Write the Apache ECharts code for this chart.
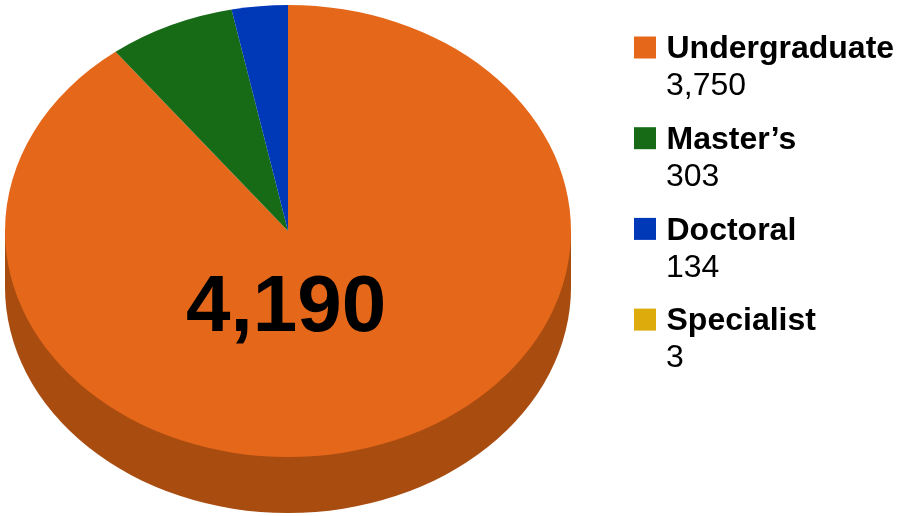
<!DOCTYPE html>
<html><head><meta charset="utf-8">
<style>html,body{margin:0;padding:0;background:#fff}#c{width:905px;height:516px}</style>
<script src="https://cdn.jsdelivr.net/npm/echarts@6/dist/echarts.min.js"></script>
</head><body><div id="c"></div>
<script>
var categories = ["Undergraduate", "Master\u2019s", "Doctoral", "Specialist"];
var values = [3750, 303, 134, 3];
var valueLabels = ["3,750", "303", "134", "3"];
var colors = ["#E5671A", "#176B17", "#0039B8", "#DDAC0C"];
var totalLabel = "4,190";
var sideColor = "#A94C10";

var CX = 288, CY = 231, RX = 283, RY = 226, DEPTH = 56;
var total = values.reduce(function (a, b) { return a + b; }, 0);
var FONT = '"Liberation Sans", Arial, sans-serif';
var chart = echarts.init(document.getElementById('c'), null, {renderer: 'canvas'});
var TOP = -Math.PI / 2, FULL = 2 * Math.PI;

// Doctoral ends at 12 o'clock, Master's before it; Undergraduate closes the ring,
// and the 3-count Specialist sliver sits beneath it, too thin to show, as in the reference.
function renderSlice(params, api) {
  var i = params.dataIndex, after = 0;
  for (var k = i + 1; k < 3; k++) after += values[k];
  var a0, a1;
  if (i === 3) { a0 = TOP; a1 = TOP + api.value(1) / total * FULL; }
  else {
    a1 = TOP + FULL - after / total * FULL;
    a0 = i === 0 ? TOP : a1 - api.value(1) / total * FULL;
  }
  return {
    type: 'sector', x: CX, y: CY, scaleX: 1, scaleY: RY / RX,
    shape: {cx: 0, cy: 0, r0: 0, r: RX, startAngle: a0, endAngle: a1, clockwise: true},
    style: {fill: colors[i]}, z2: i === 3 ? 5 : 10
  };
}
function renderSide(params, api) {
  if (params.dataIndex !== 0) return null;
  return {type: 'group', children: [
    {type: 'sector', x: CX, y: CY + DEPTH, scaleY: RY / RX,
     shape: {cx: 0, cy: 0, r0: 0, r: RX, startAngle: 0, endAngle: Math.PI, clockwise: true},
     style: {fill: sideColor}},
    {type: 'rect', shape: {x: CX - RX, y: CY, width: 2 * RX, height: DEPTH}, style: {fill: sideColor}}
  ]};
}

var graphics = [{type: 'text', left: 186, top: 269, z: 20,
  style: {text: totalLabel, fill: '#000', font: 'bold 80px ' + FONT}}];
var SW_TOP = 36.5, STEP = 90.7;
categories.forEach(function (c, i) {
  var y = SW_TOP + STEP * i;
  graphics.push({type: 'rect', left: 634, top: y, shape: {width: 22, height: 22}, style: {fill: colors[i]}});
  graphics.push({type: 'text', left: 666.5, top: y - 3, style: {text: c, fill: '#000', font: 'bold 32px ' + FONT}});
  graphics.push({type: 'text', left: 666, top: y + 34, style: {text: valueLabels[i], fill: '#000', font: '32px ' + FONT}});
});

chart.setOption({
  animation: false,
  backgroundColor: '#fff',
  graphic: graphics,
  series: [
    {type: 'custom', coordinateSystem: 'none', silent: true, z: 1, renderItem: renderSide,
     data: categories.map(function (c, i) { return [c, values[i]]; })},
    {type: 'custom', coordinateSystem: 'none', silent: true, z: 2, renderItem: renderSlice,
     data: categories.map(function (c, i) { return [c, values[i]]; })}
  ]
});
</script></body></html>
